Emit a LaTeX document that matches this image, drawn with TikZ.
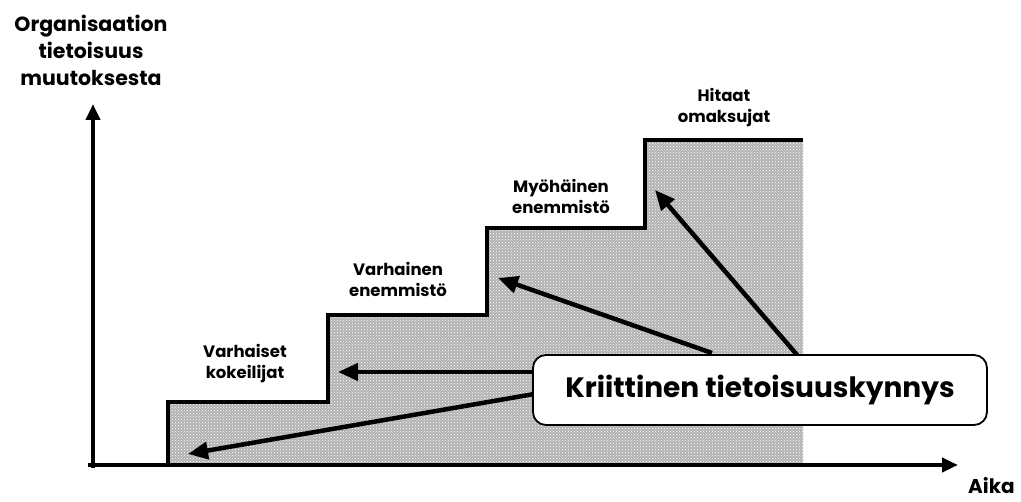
\documentclass[tikz,border=0pt]{standalone}
\usepackage{fontspec}
\setmainfont{Poppins}
\usetikzlibrary{arrows.meta,patterns}
\begin{document}
\begin{tikzpicture}[x=1pt,y=-1pt,
  axis/.style={line width=4.5pt,-{Triangle[length=16pt,width=14pt]}},
  stairline/.style={line width=4pt,line join=miter},
  pointer/.style={line width=4.5pt,-{Triangle[length=20pt,width=17pt]}},
  lbl/.style={font=\bfseries\fontsize{16.5}{21}\selectfont,align=center,inner sep=0pt},
  biglbl/.style={font=\bfseries\fontsize{20.5}{27}\selectfont,align=center,inner sep=0pt},
  axislbl/.style={font=\bfseries\fontsize{20}{22}\selectfont,inner sep=0pt},
  callout/.style={draw,line width=1.8pt,rounded corners=13pt,fill=white,minimum width=454pt,minimum height=70pt,font=\bfseries\fontsize{28}{30}\selectfont}]
\useasboundingbox (0,0) rectangle (1021,502);
% shaded staircase area: grey ground with a grid of light dots
\fill[gray!60] (168,465) -- (168,402) -- (328,402) -- (328,315) -- (487,315) -- (487,228) -- (645,228) -- (645,140) -- (803,140) -- (803,465) -- cycle;
\fill[pattern=crosshatch dots,pattern color=white] (168,465) -- (168,402) -- (328,402) -- (328,315) -- (487,315) -- (487,228) -- (645,228) -- (645,140) -- (803,140) -- (803,465) -- cycle;
\draw[stairline] (168,465) -- (168,402) -- (328,402) -- (328,315) -- (487,315) -- (487,228) -- (645,228) -- (645,140) -- (803,140);
% axes
\coordinate (ytop) at (93,104);
\coordinate (xend) at (958,465);
\draw[axis] (88,465) -- (xend);
\draw[axis] (93,468) -- (ytop);
% labels
\node[biglbl] (yl) at (91,50) {Organisaation\\tietoisuus\\muutoksesta};
\node[axislbl,anchor=base west] (xl) at (968,494) {Aika};
\node[lbl] (s1) at (245,364) {Varhaiset\\kokeilijat};
\node[lbl] (s2) at (398,279) {Varhainen\\enemmistö};
\node[lbl] (s3) at (561,196) {Myöhäinen\\enemmistö};
\node[lbl] (s4) at (724,108) {Hitaat\\omaksujat};
% pointer ends
\coordinate (t1) at (188,454);
\coordinate (t2) at (338,372);
\coordinate (t3) at (498,278);
\coordinate (t4) at (655,190);
\coordinate (f1) at (540,393);
\coordinate (f2) at (540,372);
\coordinate (f3) at (712,353);
\coordinate (f4) at (798,356);
\draw[pointer] (f1) -- (t1);
\draw[pointer] (f2) -- (t2);
\draw[pointer] (f3) -- (t3);
\draw[pointer] (f4) -- (t4);
% threshold callout
\node[callout] (k) at (760,390) {Kriittinen tietoisuuskynnys};
\end{tikzpicture}
\end{document}
